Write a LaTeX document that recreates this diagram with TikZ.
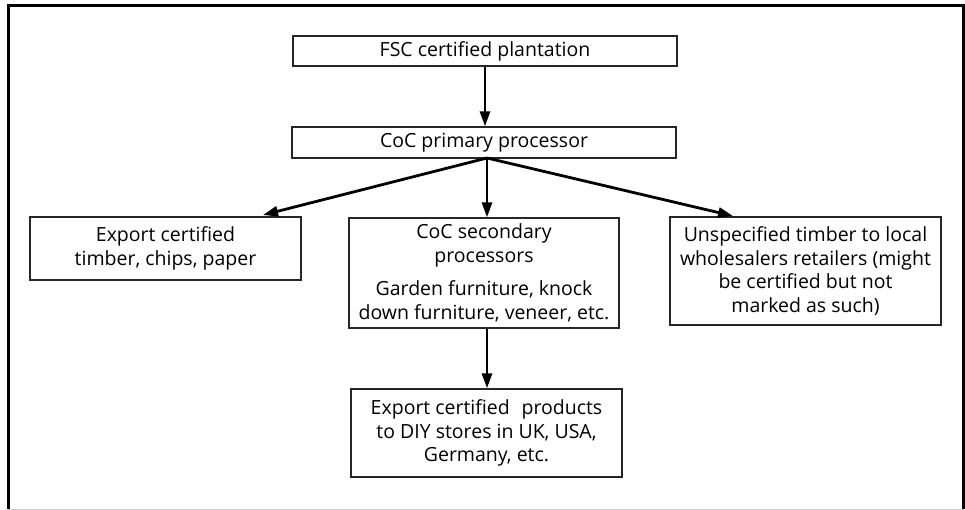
\documentclass[tikz,border=0pt]{standalone}
\usepackage{fontspec}
\setmainfont{Open Sans}
\usetikzlibrary{arrows.meta,calc}
\begin{document}
\begin{tikzpicture}[x=1pt,y=-1pt,
  box/.style={draw=black!85,line width=1.3pt,inner sep=0pt,align=center,
    font=\fontsize{19.5}{23.5}\selectfont},
  flow/.style={line width=2.8pt,-{Triangle[length=15pt,width=10pt]}}]
\useasboundingbox (0,0) rectangle (965,510);
\fill[white] (0,0) rectangle (965,510);
% outer frame
\draw[line width=3pt,black] (8,509) -- (8,6) -- (963.5,6) -- (963.5,509);
\draw[line width=1pt,black!20] (8,509) -- (963.5,509);
% nodes
\node[box,minimum width=384pt,minimum height=30pt] (fsc) at (485,51) {FSC certified plantation};
\node[box,minimum width=384pt,minimum height=31pt] (prim) at (484,142.5) {CoC primary processor};
\node[box,minimum width=271pt,minimum height=63pt] (exp) at (165.5,248.5) {Export certified\\timber, chips, paper};
\node[box,minimum width=270pt,minimum height=110pt] (sec) at (484,273) {CoC secondary\\processors\\[10pt]Garden furniture, knock\\down furniture, veneer, etc.};
\node[box,minimum width=271pt,minimum height=108pt] (uns) at (805.5,271) {Unspecified timber to local\\wholesalers retailers (might\\be certified but not\\marked as such)};
\node[box,minimum width=271pt,minimum height=88pt] (prod) at (486.5,433) {Export certified\hspace{0.6em}products\\to DIY stores in UK, USA,\\Germany, etc.};
% connector points
\coordinate (hub) at (487,158);
\coordinate (expin) at (263,215);
\coordinate (unsin) at (733,216);
% connectors
\draw[flow] (fsc.south -| 485,0) -- (prim.north -| 485,0);
\draw[flow] (hub) -- (expin);
\draw[flow] (hub) -- (sec.north -| hub);
\draw[flow] (hub) -- (unsin);
\draw[flow] (sec.south -| 487,0) -- (prod.north -| 487,0);
\end{tikzpicture}
\end{document}
